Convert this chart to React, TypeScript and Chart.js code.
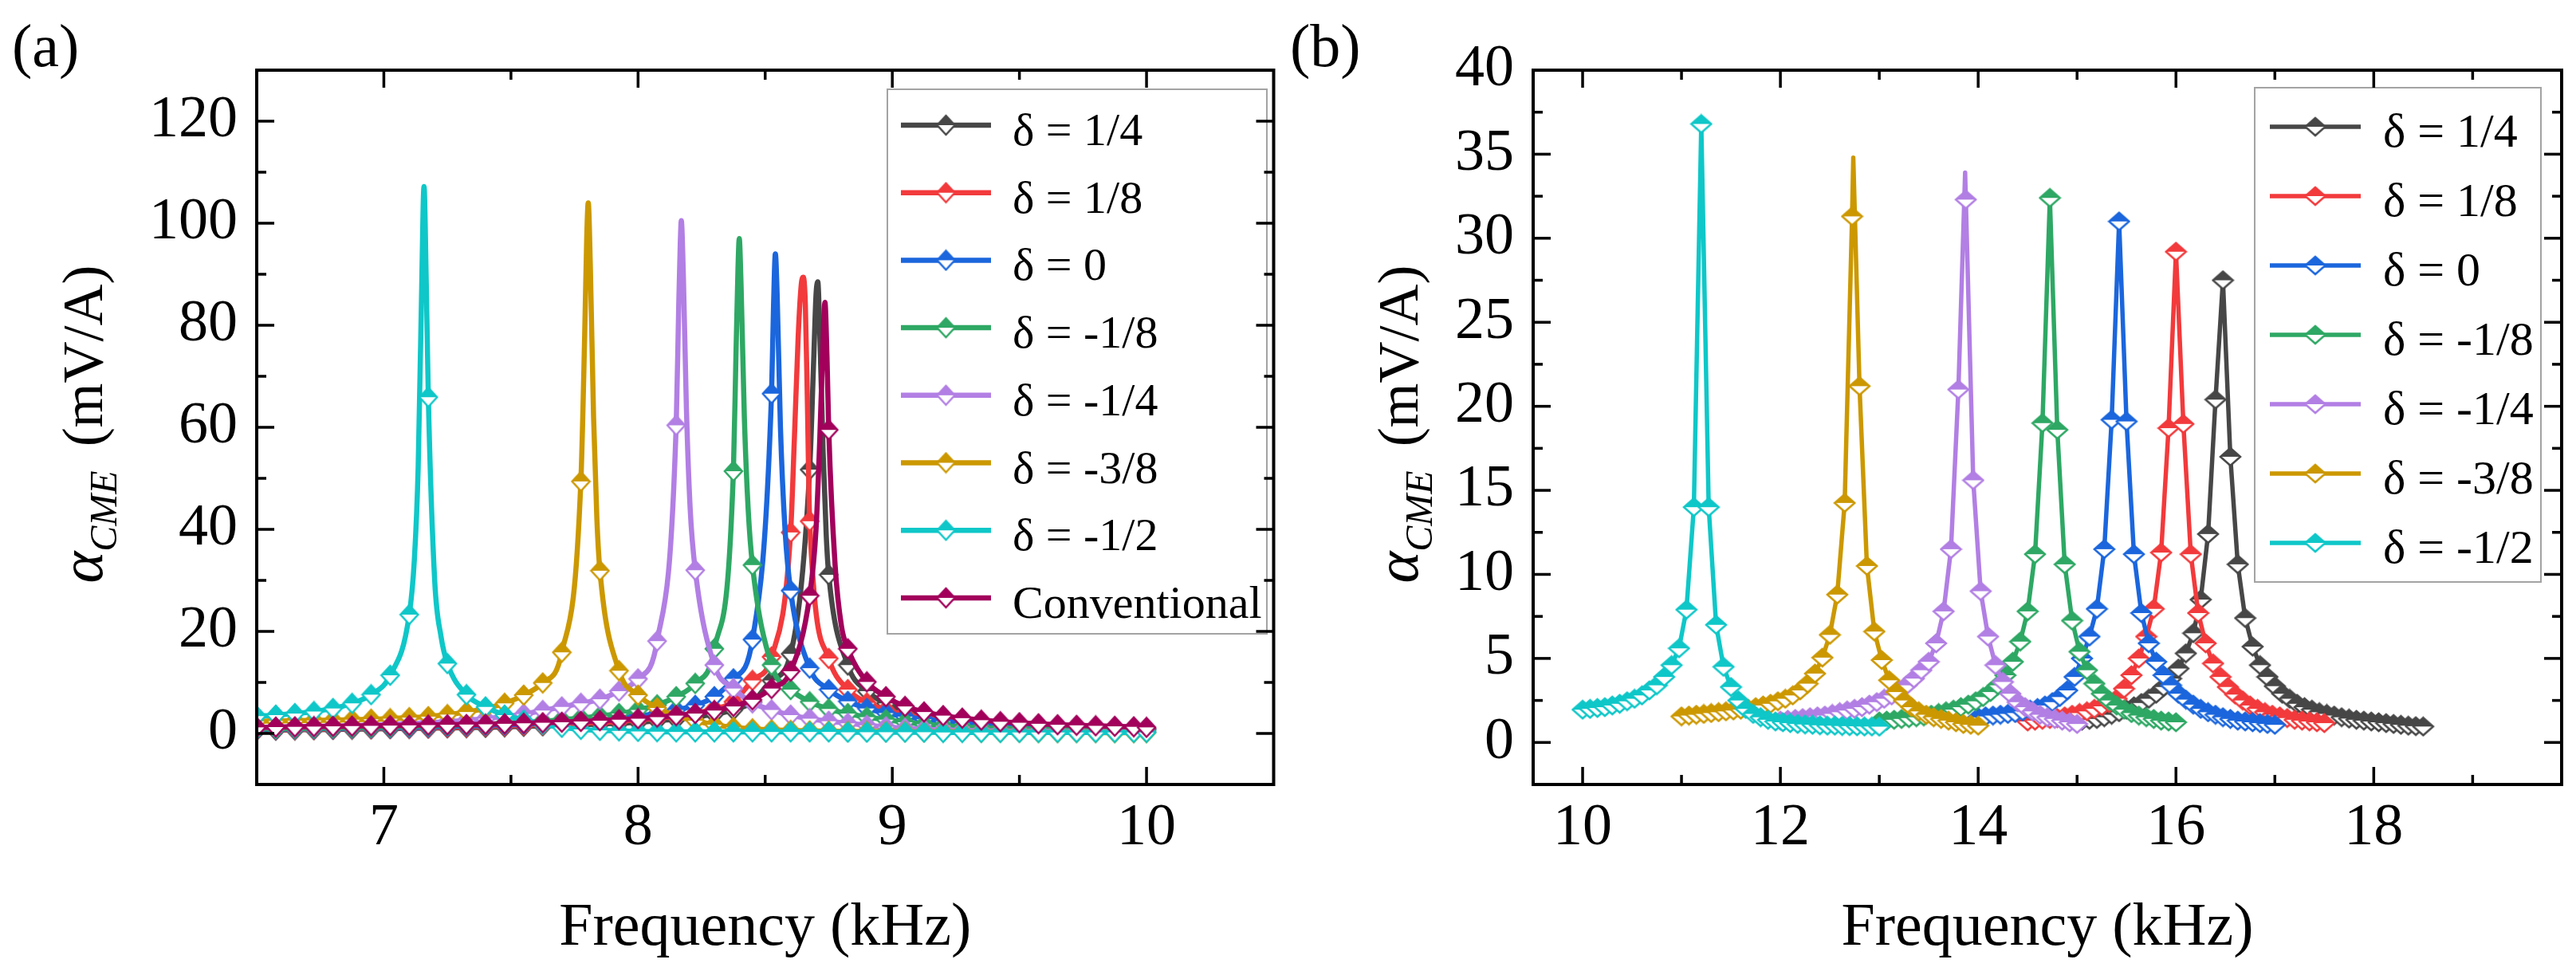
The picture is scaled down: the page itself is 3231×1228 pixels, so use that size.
import React, { useEffect, useRef } from "react";
import { Chart, registerables } from "chart.js";

Chart.register(...registerables);

const FONT = '"Liberation Serif", "Times New Roman", serif';

// ---------- legend labels and colours (same order in both panels) ----------
const labels = ["δ = 1/4", "δ = 1/8", "δ = 0", "δ = -1/8", "δ = -1/4", "δ = -3/8", "δ = -1/2", "Conventional"];
const colors = ["#474747", "#f23a3c", "#1b66dd", "#2ea864", "#b27fe4", "#cc9800", "#0fc7c8", "#a2005b"];

// ---------- panel (a) ----------
const freqA = [6.5, 6.575, 6.65, 6.725, 6.8, 6.875, 6.95, 7.025, 7.1, 7.175, 7.25, 7.325, 7.4, 7.475, 7.55, 7.625,
  7.7, 7.775, 7.85, 7.925, 8.0, 8.075, 8.15, 8.225, 8.3, 8.375, 8.45, 8.525, 8.6, 8.675, 8.75, 8.825, 8.9, 8.975,
  9.05, 9.125, 9.2, 9.275, 9.35, 9.425, 9.5, 9.575, 9.65, 9.725, 9.8, 9.875, 9.95, 10.0];

const aP14 = [0.6, 0.65, 0.7, 0.75, 0.8, 0.85, 0.9, 0.95, 1.0, 1.05, 1.1, 1.15, 1.2, 1.3, 1.4, 1.5, 1.6, 1.7, 1.85, 2.0,
  2.2, 2.5, 2.8, 3.2, 3.8, 4.6, 6.2, 10.4, 15.6, 51.7, 31.1, 13.4, 8.3, 5.9, 4.6, 3.7, 3.1, 2.6, 2.2, 1.9, 1.7, 1.5,
  1.35, 1.25, 1.15, 1.05, 1.0, 0.95];
const aP18 = [0.7, 0.75, 0.8, 0.85, 0.9, 0.95, 1.0, 1.05, 1.1, 1.15, 1.2, 1.3, 1.4, 1.5, 1.6, 1.7, 1.85, 2.0, 2.2, 2.4,
  2.7, 3.0, 3.4, 4.0, 4.8, 6.2, 10.4, 15.0, 39.4, 41.6, 14.7, 8.6, 6.0, 4.6, 3.7, 3.0, 2.5, 2.1, 1.8, 1.6, 1.4, 1.3,
  1.2, 1.1, 1.0, 0.95, 0.9, 0.85];
const aZero = [0.8, 0.85, 0.9, 0.95, 1.0, 1.05, 1.1, 1.15, 1.2, 1.3, 1.4, 1.5, 1.6, 1.7, 1.85, 2.0, 2.2, 2.4, 2.7, 3.0,
  3.4, 3.9, 4.6, 5.5, 7.2, 10.7, 18.4, 66.6, 28.0, 12.8, 8.6, 6.3, 4.9, 4.0, 3.3, 2.8, 2.4, 2.0, 1.7, 1.5, 1.3, 1.2,
  1.1, 1.0, 0.9, 0.9, 0.8, 0.8];
const aM18 = [0.9, 0.95, 1.0, 1.05, 1.1, 1.15, 1.2, 1.3, 1.4, 1.5, 1.6, 1.7, 1.8, 2.0, 2.2, 2.4, 2.7, 3.0, 3.4, 3.9,
  4.6, 5.6, 7.2, 9.8, 16.6, 51.4, 33.0, 13.4, 8.6, 6.2, 4.8, 3.9, 3.2, 2.7, 2.2, 1.8, 1.5, 1.3, 1.1, 1.0, 0.9, 0.8,
  0.75, 0.7, 0.65, 0.6, 0.55, 0.5];
const aM14 = [1.2, 1.25, 1.3, 1.35, 1.45, 1.55, 1.65, 1.8, 1.95, 2.1, 2.3, 2.6, 2.9, 3.3, 3.8, 4.5, 5.2, 5.9, 6.7, 8.3,
  10.7, 18.1, 60.4, 32.0, 13.4, 8.8, 6.0, 4.6, 3.6, 2.9, 2.4, 2.0, 1.6, 1.3, 1.0, 0.8, 0.7, 0.6, 0.5, 0.45, 0.4, 0.4,
  0.35, 0.35, 0.3, 0.3, 0.3, 0.3];
const aM38 = [2.4, 2.45, 2.5, 2.55, 2.6, 2.7, 2.8, 2.9, 3.1, 3.3, 3.7, 4.2, 4.9, 5.9, 7.5, 9.9, 15.9, 49.4, 31.9, 12.3,
  7.5, 5.0, 3.5, 2.5, 1.7, 1.2, 0.9, 0.7, 0.6, 0.5, 0.45, 0.4, 0.4, 0.35, 0.35, 0.3, 0.3, 0.3, 0.25, 0.25, 0.25, 0.2,
  0.2, 0.2, 0.2, 0.15, 0.15, 0.15];
const aM12 = [3.4, 3.6, 3.9, 4.3, 4.9, 5.9, 7.6, 11.4, 23.3, 65.9, 13.7, 7.6, 5.2, 3.6, 2.6, 1.8, 1.2, 0.8, 0.6, 0.5,
  0.4, 0.35, 0.3, 0.3, 0.3, 0.3, 0.3, 0.3, 0.3, 0.3, 0.3, 0.25, 0.25, 0.25, 0.25, 0.25, 0.2, 0.2, 0.2, 0.2, 0.2, 0.2,
  0.2, 0.2, 0.2, 0.2, 0.2, 0.2];
const aConv = [1.2, 1.25, 1.3, 1.35, 1.4, 1.45, 1.5, 1.55, 1.6, 1.65, 1.7, 1.75, 1.8, 1.9, 2.0, 2.1, 2.2, 2.35, 2.5, 2.7,
  2.9, 3.2, 3.5, 3.9, 4.5, 5.3, 6.6, 8.8, 12.2, 27.0, 59.5, 16.6, 10.1, 7.2, 5.3, 4.2, 3.5, 3.0, 2.6, 2.3, 2.1, 1.9,
  1.7, 1.6, 1.5, 1.4, 1.3, 1.2];

// resonance tops in (a): line points that carry no symbol
const aP14PeakF = [8.69, 8.7, 8.707, 8.715, 8.728, 8.74];
const aP14PeakV = [72, 86, 88.5, 78, 55, 39];
const aP18PeakF = [8.615, 8.63, 8.642, 8.65, 8.658, 8.666];
const aP18PeakV = [58, 78, 88, 89.4, 84, 65];
const aZeroPeakF = [8.533, 8.54, 8.547, 8.56, 8.578];
const aZeroPeakV = [84, 94, 86, 60, 40];
const aM18PeakF = [8.385, 8.393, 8.398, 8.405, 8.418, 8.433];
const aM18PeakV = [74, 91, 97, 88, 62, 44];
const aM14PeakF = [8.16, 8.166, 8.17, 8.178, 8.19, 8.205];
const aM14PeakV = [84, 96, 100.5, 90, 64, 44];
const aM38PeakF = [7.79, 7.798, 7.804, 7.812, 7.825, 7.838];
const aM38PeakV = [78, 97, 104, 92, 62, 42];
const aM12PeakF = [7.12, 7.135, 7.148, 7.158, 7.167, 7.2, 7.225];
const aM12PeakV = [34, 52, 85, 107.2, 88, 30, 19];
const aConvPeakF = [8.7, 8.715, 8.727, 8.735, 8.743, 8.775, 8.8];
const aConvPeakV = [40, 58, 76, 84.5, 74, 33, 21];

const xTicksA = [7, 8, 9, 10];
const xMinorA = [7.5, 8.5, 9.5];
const yTicksA = [0, 20, 40, 60, 80, 100, 120];
const yMinorA = [10, 30, 50, 70, 90, 110];

// ---------- panel (b) ----------
const bFreqP14 = [15.05, 15.125, 15.2, 15.275, 15.35, 15.425, 15.5, 15.575, 15.65, 15.725, 15.8, 15.875, 15.95,
  16.025, 16.1, 16.175, 16.25, 16.325, 16.4, 16.475, 16.55, 16.625, 16.7, 16.775, 16.85, 16.925, 17.0, 17.075, 17.15,
  17.225, 17.3, 17.375, 17.45, 17.525, 17.6, 17.675, 17.75, 17.825, 17.9, 17.975, 18.05, 18.125, 18.2, 18.275, 18.35,
  18.425, 18.5];
const bP14 = [1.3, 1.35, 1.4, 1.5, 1.65, 1.8, 1.95, 2.15, 2.35, 2.6, 2.9, 3.3, 3.8, 4.4, 5.3, 6.5, 8.5, 12.4, 20.4,
  27.5, 17.0, 10.6, 7.4, 5.7, 4.6, 3.9, 3.35, 2.9, 2.6, 2.3, 2.1, 1.95, 1.8, 1.7, 1.6, 1.5, 1.42, 1.35, 1.3, 1.25,
  1.2, 1.15, 1.1, 1.05, 1.0, 0.97, 0.95];

const bFreqP18 = [14.5, 14.575, 14.65, 14.725, 14.8, 14.875, 14.95, 15.025, 15.1, 15.175, 15.25, 15.325, 15.4,
  15.475, 15.55, 15.625, 15.7, 15.775, 15.85, 15.925, 16.0, 16.075, 16.15, 16.225, 16.3, 16.375, 16.45, 16.525, 16.6,
  16.675, 16.75, 16.825, 16.9, 16.975, 17.05, 17.125, 17.2, 17.275, 17.35, 17.425, 17.5];
const bP18 = [1.25, 1.3, 1.35, 1.4, 1.45, 1.55, 1.65, 1.75, 1.85, 2.0, 2.15, 2.35, 2.6, 3.2, 4.0, 5.0, 6.3, 7.95,
  11.3, 18.7, 29.2, 18.95, 11.2, 7.7, 5.9, 4.7, 3.9, 3.3, 2.85, 2.5, 2.2, 2.0, 1.8, 1.65, 1.55, 1.45, 1.35, 1.3, 1.25,
  1.2, 1.15];

const bFreqZero = [14.0, 14.075, 14.15, 14.225, 14.3, 14.375, 14.45, 14.525, 14.6, 14.675, 14.75, 14.825, 14.9,
  14.975, 15.05, 15.125, 15.2, 15.275, 15.35, 15.425, 15.5, 15.575, 15.65, 15.725, 15.8, 15.875, 15.95, 16.025, 16.1,
  16.175, 16.25, 16.325, 16.4, 16.475, 16.55, 16.625, 16.7, 16.775, 16.85, 16.925, 17.0];
const bZero = [1.5, 1.55, 1.6, 1.65, 1.7, 1.75, 1.85, 1.95, 2.05, 2.2, 2.4, 2.7, 3.1, 3.9, 5.0, 6.3, 7.95, 11.5,
  19.2, 31.0, 19.1, 11.2, 7.7, 5.9, 4.8, 4.0, 3.4, 2.9, 2.55, 2.25, 2.0, 1.8, 1.65, 1.5, 1.4, 1.3, 1.25, 1.2, 1.15,
  1.1, 1.05];

const bFreqM18 = [13.0, 13.075, 13.15, 13.225, 13.3, 13.375, 13.45, 13.525, 13.6, 13.675, 13.75, 13.825, 13.9,
  13.975, 14.05, 14.125, 14.2, 14.275, 14.35, 14.425, 14.5, 14.575, 14.65, 14.725, 14.8, 14.875, 14.95, 15.025, 15.1,
  15.175, 15.25, 15.325, 15.4, 15.475, 15.55, 15.625, 15.7, 15.775, 15.85, 15.925, 16.0];
const bM18 = [1.25, 1.3, 1.35, 1.4, 1.45, 1.5, 1.55, 1.65, 1.75, 1.85, 1.95, 2.1, 2.25, 2.45, 2.7, 3.0, 3.4, 4.0,
  4.8, 6.0, 7.8, 11.2, 19.0, 32.4, 18.6, 10.6, 7.25, 5.4, 4.3, 3.5, 2.9, 2.5, 2.2, 1.95, 1.75, 1.6, 1.5, 1.4, 1.3,
  1.25, 1.2];

const bFreqM14 = [12.0, 12.075, 12.15, 12.225, 12.3, 12.375, 12.45, 12.525, 12.6, 12.675, 12.75, 12.825, 12.9,
  12.975, 13.05, 13.125, 13.2, 13.275, 13.35, 13.425, 13.5, 13.575, 13.65, 13.725, 13.8, 13.875, 13.95, 14.025, 14.1,
  14.175, 14.25, 14.325, 14.4, 14.475, 14.55, 14.625, 14.7, 14.775, 14.85, 14.925, 15.0];
const bM14 = [1.3, 1.35, 1.4, 1.45, 1.5, 1.55, 1.6, 1.7, 1.8, 1.9, 2.0, 2.1, 2.25, 2.4, 2.6, 2.8, 3.1, 3.4, 3.8,
  4.3, 4.8, 5.9, 7.8, 11.5, 21.0, 32.3, 15.6, 9.0, 6.3, 4.6, 3.6, 2.9, 2.4, 2.1, 1.85, 1.65, 1.5, 1.4, 1.3, 1.2, 1.1];
const bM14PeakF = [13.868];
const bM14PeakV = [33.9];

const bFreqM38 = [11.0, 11.075, 11.15, 11.225, 11.3, 11.375, 11.45, 11.525, 11.6, 11.675, 11.75, 11.825, 11.9,
  11.975, 12.05, 12.125, 12.2, 12.275, 12.35, 12.425, 12.5, 12.575, 12.65, 12.725, 12.8, 12.875, 12.95, 13.025, 13.1,
  13.175, 13.25, 13.325, 13.4, 13.475, 13.55, 13.625, 13.7, 13.775, 13.85, 13.925, 14.0];
const bM38 = [1.55, 1.6, 1.65, 1.7, 1.75, 1.8, 1.85, 1.9, 1.95, 2.0, 2.1, 2.2, 2.3, 2.45, 2.6, 2.8, 3.1, 3.5, 4.1,
  5.05, 6.4, 8.8, 14.25, 31.3, 21.2, 10.5, 6.6, 4.9, 3.7, 3.0, 2.5, 2.1, 1.85, 1.65, 1.5, 1.4, 1.3, 1.2, 1.1, 1.05,
  1.0];
const bM38PeakF = [12.737];
const bM38PeakV = [34.8];

const bFreqM12 = [10.0, 10.075, 10.15, 10.225, 10.3, 10.375, 10.45, 10.525, 10.6, 10.675, 10.75, 10.825, 10.9,
  10.975, 11.05, 11.125, 11.2, 11.275, 11.35, 11.425, 11.5, 11.575, 11.65, 11.725, 11.8, 11.875, 11.95, 12.025, 12.1,
  12.175, 12.25, 12.325, 12.4, 12.475, 12.55, 12.625, 12.7, 12.775, 12.85, 12.925, 13.0];
const bM12 = [1.95, 2.0, 2.05, 2.1, 2.2, 2.3, 2.45, 2.6, 2.8, 3.1, 3.4, 3.9, 4.6, 5.6, 7.9, 14.0, 36.8, 14.0, 7.0,
  4.5, 3.3, 2.5, 2.0, 1.7, 1.5, 1.35, 1.25, 1.2, 1.15, 1.1, 1.07, 1.05, 1.02, 1.0, 1.0, 0.98, 0.97, 0.96, 0.95, 0.95,
  0.94];

const xTicksB = [10, 12, 14, 16, 18];
const xMinorB = [11, 13, 15, 17, 19];
const yTicksB = [0, 5, 10, 15, 20, 25, 30, 35, 40];
const yMinorB = [2.5, 7.5, 12.5, 17.5, 22.5, 27.5, 32.5, 37.5];

type Pt = { x: number; y: number; bare?: boolean };
type Series = { label: string; color: string; f: number[]; v: number[]; pf?: number[]; pv?: number[] };

function toPoints(f: number[], v: number[], pf: number[] = [], pv: number[] = []): Pt[] {
  const pts: Pt[] = f.map((x, i) => ({ x, y: v[i] }));
  pf.forEach((x, i) => pts.push({ x, y: pv[i], bare: true }));
  return pts.sort((a, b) => a.x - b.x);
}

// half-filled diamond: upper half solid, lower half hollow
function makeMarker(color: string, w: number, h: number) {
  const c = document.createElement("canvas");
  c.width = w + 4;
  c.height = h + 4;
  const g = c.getContext("2d")!;
  const cx = c.width / 2, cy = c.height / 2;
  g.beginPath();
  g.moveTo(cx, cy - h / 2); g.lineTo(cx + w / 2, cy); g.lineTo(cx - w / 2, cy); g.closePath();
  g.fillStyle = color; g.fill();
  g.beginPath();
  g.moveTo(cx - w / 2, cy); g.lineTo(cx + w / 2, cy); g.lineTo(cx, cy + h / 2); g.closePath();
  g.fillStyle = "#ffffff"; g.fill();
  g.beginPath();
  g.moveTo(cx, cy - h / 2); g.lineTo(cx + w / 2, cy); g.lineTo(cx, cy + h / 2); g.lineTo(cx - w / 2, cy); g.closePath();
  g.strokeStyle = color; g.lineWidth = 2.5; g.stroke();
  return c;
}

type LegendBox = { x: number; y: number; w: number; h: number; row0: number; gap: number;
  lineX0: number; lineX1: number; textX: number; textDy: number; size: number };

type PanelProps = {
  left: number; width: number; series: Series[]; smooth: boolean; lineWidth: number;
  markW: number; markH: number;
  xMin: number; xMax: number; yMin: number; yMax: number;
  xTicks: number[]; xMinor: number[]; yTicks: number[]; yMinor: number[];
  axisW: number; padRight: number; legend: LegendBox; tag: string; tagX: number; yTitleX: number;
};

const H = 1228;

function Panel(p: PanelProps) {
  const ref = useRef<HTMLCanvasElement>(null);

  useEffect(() => {
    if (!ref.current) return;
    const ctx = ref.current.getContext("2d");
    if (!ctx) return;
    const n = p.series.length;

    const datasets = p.series.map((s, i) => ({
      label: s.label,
      data: toPoints(s.f, s.v, s.pf, s.pv),
      borderColor: s.color,
      backgroundColor: s.color,
      borderWidth: p.lineWidth,
      borderJoinStyle: "round",
      borderCapStyle: "round",
      cubicInterpolationMode: p.smooth ? "monotone" : "default",
      tension: 0,
      pointStyle: makeMarker(s.color, p.markW, p.markH),
      pointRadius: (c: any) => (c.raw && c.raw.bare ? 0 : 11),
      order: n - i,
    }));

    const decor = {
      id: "decor",
      afterDraw(chart: any) {
        const g = chart.ctx;
        const { left, right, top, bottom } = chart.chartArea;
        const xs = chart.scales.x, ys = chart.scales.y;
        g.save();

        // legend
        const L = p.legend;
        g.fillStyle = "#fff";
        g.fillRect(L.x, L.y, L.w, L.h);
        g.strokeStyle = "#a3a3a3";
        g.lineWidth = 2;
        g.strokeRect(L.x, L.y, L.w, L.h);
        chart.data.datasets.forEach((ds: any, i: number) => {
          const y = L.row0 + i * L.gap;
          g.strokeStyle = ds.borderColor;
          g.lineWidth = p.lineWidth;
          g.lineCap = "butt";
          g.beginPath(); g.moveTo(L.lineX0, y); g.lineTo(L.lineX1, y); g.stroke();
          const m = ds.pointStyle;
          g.drawImage(m, (L.lineX0 + L.lineX1) / 2 - m.width / 2, y - m.height / 2);
          g.fillStyle = "#000";
          g.font = `${L.size}px ${FONT}`;
          g.textAlign = "left";
          g.textBaseline = "alphabetic";
          g.fillText(ds.label, L.textX, y + L.textDy);
        });

        // frame and inward ticks on all four sides
        g.strokeStyle = "#000";
        g.lineWidth = 4;
        g.lineCap = "butt";
        g.strokeRect(left, top, right - left, bottom - top);
        g.lineWidth = 3.5;
        const seg = (x0: number, y0: number, x1: number, y1: number) => {
          g.beginPath(); g.moveTo(x0, y0); g.lineTo(x1, y1); g.stroke();
        };
        const xt = (vals: number[], len: number) => vals.forEach((v) => {
          const px = xs.getPixelForValue(v);
          seg(px, bottom, px, bottom - len);
          seg(px, top, px, top + len);
        });
        const yt = (vals: number[], len: number) => vals.forEach((v) => {
          const py = ys.getPixelForValue(v);
          seg(left, py, left + len, py);
          seg(right, py, right - len, py);
        });
        xt(p.xTicks, 22); xt(p.xMinor, 12);
        yt(p.yTicks, 22); yt(p.yMinor, 12);

        // y axis title with subscript
        g.fillStyle = "#000";
        g.translate(p.yTitleX, (top + bottom) / 2 - 4);
        g.rotate(-Math.PI / 2);
        const big = `italic 76px ${FONT}`, sub = `italic 48px ${FONT}`, unit = `72px ${FONT}`;
        g.font = big; const wA = g.measureText("α").width;
        g.font = sub; const wS = g.measureText("CME").width;
        g.font = unit; const wU = g.measureText("(mV/A)").width;
        const gap = 30;
        let x = -(wA + wS + gap + wU) / 2;
        g.textAlign = "left";
        g.textBaseline = "alphabetic";
        g.font = big; g.fillText("α", x, 0); x += wA;
        g.font = sub; g.fillText("CME", x, 18); x += wS + gap;
        g.font = unit; g.fillText("(mV/A)", x, 0);
        g.setTransform(1, 0, 0, 1, 0, 0);

        // panel tag
        g.font = `76px ${FONT}`;
        g.fillText(p.tag, p.tagX, 83);
        g.restore();
      },
    };

    const chart = new Chart(ctx, {
      type: "line",
      data: { datasets: datasets as any },
      options: {
        animation: false,
        responsive: false,
        devicePixelRatio: 1,
        events: [],
        layout: { padding: { left: 0, right: p.padRight, top: 88, bottom: 0 } },
        plugins: { legend: { display: false }, tooltip: { enabled: false } },
        scales: {
          x: {
            type: "linear",
            min: p.xMin,
            max: p.xMax,
            grid: { display: false, drawTicks: false },
            border: { display: false },
            ticks: { color: "#000", font: { family: FONT, size: 74, lineHeight: 1 }, padding: 19, autoSkip: false, maxRotation: 0 },
            title: { display: true, text: "Frequency (kHz)", color: "#000", font: { family: FONT, size: 76, lineHeight: 1 }, padding: { top: 0, bottom: 25 } },
            afterBuildTicks: (s: any) => { s.ticks = p.xTicks.map((v) => ({ value: v })); },
            afterFit: (s: any) => { s.height = H - 984; },
          },
          y: {
            type: "linear",
            min: p.yMin,
            max: p.yMax,
            grid: { display: false, drawTicks: false },
            border: { display: false },
            ticks: { color: "#000", font: { family: FONT, size: 74, lineHeight: 1 }, padding: 24, autoSkip: false },
            afterBuildTicks: (s: any) => { s.ticks = p.yTicks.map((v) => ({ value: v })); },
            afterFit: (s: any) => { s.width = p.axisW; },
          },
        },
      },
      plugins: [decor],
    });

    return () => {
      chart.destroy();
    };
  }, []);

  return (
    <canvas ref={ref} width={p.width} height={H}
      style={{ position: "absolute", left: p.left, top: 0, width: p.width, height: H }} />
  );
}

const seriesA: Series[] = [
  { label: labels[0], color: colors[0], f: freqA, v: aP14, pf: aP14PeakF, pv: aP14PeakV },
  { label: labels[1], color: colors[1], f: freqA, v: aP18, pf: aP18PeakF, pv: aP18PeakV },
  { label: labels[2], color: colors[2], f: freqA, v: aZero, pf: aZeroPeakF, pv: aZeroPeakV },
  { label: labels[3], color: colors[3], f: freqA, v: aM18, pf: aM18PeakF, pv: aM18PeakV },
  { label: labels[4], color: colors[4], f: freqA, v: aM14, pf: aM14PeakF, pv: aM14PeakV },
  { label: labels[5], color: colors[5], f: freqA, v: aM38, pf: aM38PeakF, pv: aM38PeakV },
  { label: labels[6], color: colors[6], f: freqA, v: aM12, pf: aM12PeakF, pv: aM12PeakV },
  { label: labels[7], color: colors[7], f: freqA, v: aConv, pf: aConvPeakF, pv: aConvPeakV },
];

const seriesB: Series[] = [
  { label: labels[0], color: colors[0], f: bFreqP14, v: bP14 },
  { label: labels[1], color: colors[1], f: bFreqP18, v: bP18 },
  { label: labels[2], color: colors[2], f: bFreqZero, v: bZero },
  { label: labels[3], color: colors[3], f: bFreqM18, v: bM18 },
  { label: labels[4], color: colors[4], f: bFreqM14, v: bM14, pf: bM14PeakF, pv: bM14PeakV },
  { label: labels[5], color: colors[5], f: bFreqM38, v: bM38, pf: bM38PeakF, pv: bM38PeakV },
  { label: labels[6], color: colors[6], f: bFreqM12, v: bM12 },
];

export default function App() {
  return (
    <div style={{ position: "absolute", left: 0, top: 0, width: 3231, height: H, background: "#fff" }}>
      <Panel
        left={0} width={1615} series={seriesA} smooth={true} lineWidth={6.5} markW={22} markH={24}
        xMin={6.5} xMax={10.5} yMin={-10} yMax={130}
        xTicks={xTicksA} xMinor={xMinorA} yTicks={yTicksA} yMinor={yMinorA}
        axisW={322} padRight={3}
        legend={{ x: 1113, y: 112, w: 476, h: 683, row0: 157, gap: 84.7, lineX0: 1130, lineX1: 1243, textX: 1270, textDy: 25, size: 58 }}
        tag="(a)" tagX={15} yTitleX={128}
      />
      <Panel
        left={1615} width={1616} series={seriesB} smooth={false} lineWidth={5.5} markW={25} markH={22}
        xMin={9.5} xMax={19.9} yMin={-2.5} yMax={40}
        xTicks={xTicksB} xMinor={xMinorB} yTicks={yTicksB} yMinor={yMinorB}
        axisW={308} padRight={18}
        legend={{ x: 1213, y: 110, w: 359, h: 620, row0: 159, gap: 87, lineX0: 1232, lineX1: 1346, textX: 1374, textDy: 25, size: 60 }}
        tag="(b)" tagX={3} yTitleX={163}
      />
    </div>
  );
}
